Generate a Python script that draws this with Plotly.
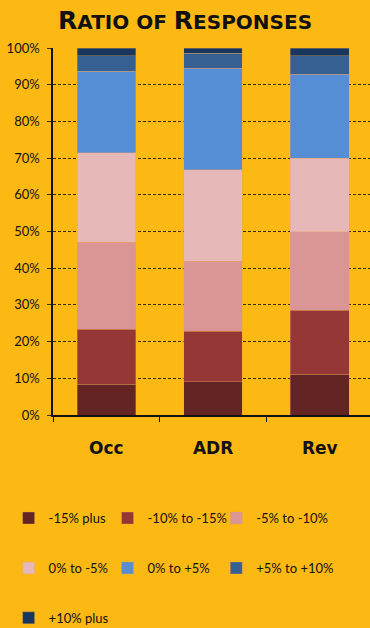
import plotly.graph_objects as go

# Share of responses per metric, stacked from the most negative bucket up
categories = ["Occ", "ADR", "Rev"]
buckets = ["-15% plus", "-10% to -15%", "-5% to -10%", "0% to -5%",
           "0% to +5%", "+5% to +10%", "+10% plus"]
occ = [8.4, 15.0, 23.7, 24.3, 22.3, 4.2, 2.1]
adr = [9.0, 13.8, 19.1, 24.9, 27.7, 4.1, 1.4]
rev = [11.1, 17.5, 21.4, 20.0, 22.8, 5.1, 2.1]
y_ticks = list(range(0, 101, 10))

colors = ["#632523", "#953735", "#D99694", "#E6B9B8",
          "#558ED5", "#376092", "#17375E"]
BG = "#FDB913"
FONT = "Lato, 'Open Sans', sans-serif"
BOLD_FONT = "'DejaVu Sans', sans-serif"

series = list(zip(occ, adr, rev))
# legend laid out as three columns, filled row by row
legend_ids = ["legend", "legend2", "legend3", "legend", "legend2", "legend3", "legend"]

fig = go.Figure()
for i, name in enumerate(buckets):
    fig.add_trace(go.Bar(
        x=categories, y=list(series[i]), name=name,
        marker=dict(color=colors[i], line=dict(color="rgba(235,160,90,0.6)", width=0.6)),
        width=0.55, legend=legend_ids[i], legendgroup=f"g{i}",
    ))

leg_common = dict(orientation="v", font=dict(family=FONT, size=13, color="#111"),
                  bgcolor="rgba(0,0,0,0)", tracegroupgap=30,
                  xanchor="left", yanchor="top", y=-0.240, traceorder="grouped")


def small_caps(text, big=25, small=20):
    """Uppercase title where initial capitals are drawn larger than the rest."""
    out = []
    for word in text.split(" "):
        head, tail = word[0], word[1:]
        piece = (f"<span style='font-size:{big}px'>{head}</span>" if head.isupper()
                 else f"<span style='font-size:{small}px'>{head.upper()}</span>")
        if tail:
            piece += f"<span style='font-size:{small}px'>{tail.upper()}</span>"
        out.append(piece)
    return "<b>" + f"<span style='font-size:{small}px'> </span>".join(out) + "</b>"


fig.update_layout(
    barmode="stack",
    width=370, height=628,
    paper_bgcolor=BG, plot_bgcolor=BG,
    margin=dict(l=53, r=0, t=48, b=213, autoexpand=False),
    title=dict(text=small_caps("Ratio of Responses"), x=0.5, xanchor="center",
               y=1 - 20 / 628, yanchor="middle",
               font=dict(family=BOLD_FONT, size=25, color="#111")),
    legend=dict(**leg_common, x=-0.14),
    legend2=dict(**leg_common, x=0.172),
    legend3=dict(**leg_common, x=0.515),
    xaxis=dict(range=[-0.5, 2.47], showline=True, linecolor="#111", linewidth=1.5,
               ticks="outside", tickson="boundaries", ticklen=5, tickcolor="#111",
               tickfont=dict(family=BOLD_FONT, size=17, color="#111", weight="bold"),
               ticklabelstandoff=17, showgrid=False),
    yaxis=dict(range=[0, 100], tickvals=y_ticks, ticktext=[f"{v}%" for v in y_ticks],
               showline=True, linecolor="#111", linewidth=1.5,
               ticks="outside", ticklen=4, tickcolor="#333",
               tickfont=dict(family=FONT, size=13, color="#111"),
               ticklabelstandoff=5,
               showgrid=True, gridcolor="#3a2a10", gridwidth=1, griddash="3px,2px",
               zeroline=False),
)

fig.write_html("out.html")
